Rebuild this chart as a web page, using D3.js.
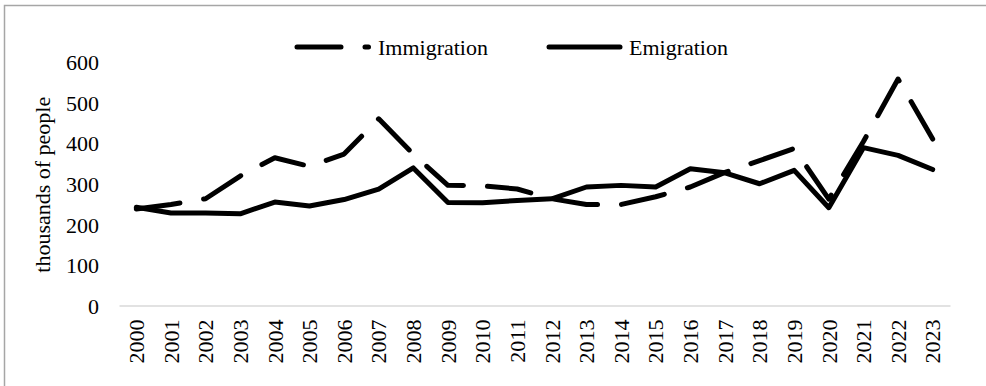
<!DOCTYPE html>
<html>
<head>
<meta charset="utf-8">
<script src="https://cdn.jsdelivr.net/npm/d3@7"></script>
<style>
  body { margin: 0; background: #fff; }
  svg text { font-family: "Liberation Serif", "Times New Roman", serif; fill: #000; }
</style>
</head>
<body>
<div id="chart"></div>
<script>
// Data
const years = ["2000","2001","2002","2003","2004","2005","2006","2007","2008","2009","2010","2011",
               "2012","2013","2014","2015","2016","2017","2018","2019","2020","2021","2022","2023"];
const immigration = [238, 249, 263, 319, 364, 343, 373, 460, 373, 296, 295, 287,
                     263, 249, 249, 268, 292, 328, 357, 387, 262, 404, 558, 410];
const emigration = [242, 228, 228, 226, 255, 245, 261, 287, 339, 254, 253, 259,
                    263, 292, 296, 292, 337, 327, 300, 333, 241, 389, 370, 335];
const yTicks = [0, 100, 200, 300, 400, 500, 600];

const W = 986, H = 386;
const plot = { left: 119, right: 950, top: 62, bottom: 305.5 };
const fontSize = 22;

const svg = d3.select("#chart").append("svg")
    .attr("width", W)
    .attr("height", H);

// chart frame (only top/left edges visible in the crop)
svg.append("rect")
    .attr("x", 4.5).attr("y", 5.5)
    .attr("width", 1000).attr("height", 400)
    .attr("fill", "none")
    .attr("stroke", "#a6a6a6")
    .attr("stroke-width", 1.5);

// Scales
const x = d3.scaleBand().domain(years).range([plot.left, plot.right]);
const y = d3.scaleLinear().domain([0, 600]).range([plot.bottom, plot.top]);
const cx = d => x(d) + x.bandwidth() / 2;

// Y axis
const yAxis = svg.append("g")
    .attr("transform", `translate(${plot.left},0)`)
    .call(d3.axisLeft(y).tickValues(yTicks).tickSize(0).tickPadding(20));
yAxis.select(".domain").remove();
yAxis.selectAll("text")
    .style("font-family", "'Liberation Serif', 'Times New Roman', serif")
    .style("font-size", fontSize + "px")
    .attr("dy", "0.35em");

// X axis
const xAxis = svg.append("g")
    .attr("transform", `translate(0,${plot.bottom})`)
    .call(d3.axisBottom(x).tickSize(0));
xAxis.select(".domain")
    .attr("stroke", "#d9d9d9")
    .attr("stroke-width", 1.5);
xAxis.selectAll("text")
    .style("font-family", "'Liberation Serif', 'Times New Roman', serif")
    .style("font-size", fontSize + "px")
    .style("text-anchor", "end")
    .attr("x", -14)
    .attr("y", 0)
    .attr("dy", "0.35em")
    .attr("transform", "rotate(-90)");

// Y axis title
svg.append("text")
    .attr("transform", `translate(42,${(plot.top + plot.bottom) / 2 + 1}) rotate(-90)`)
    .attr("text-anchor", "middle")
    .attr("dy", "0.35em")
    .style("font-size", fontSize + "px")
    .text("thousands of people");

// Lines
const line = d3.line()
    .x((d, i) => cx(years[i]))
    .y(d => y(d));

const series = [
    { name: "Immigration", values: immigration, dash: "44 24" },
    { name: "Emigration", values: emigration, dash: null }
];

svg.selectAll(".series")
    .data(series)
    .enter()
    .append("path")
    .attr("class", "series")
    .attr("d", d => line(d.values))
    .attr("fill", "none")
    .attr("stroke", "#000")
    .attr("stroke-width", 5)
    .attr("stroke-linecap", "round")
    .attr("stroke-linejoin", "round")
    .attr("stroke-dasharray", d => d.dash);

// Legend
const legendPos = [{ x0: 297, x1: 368.5, tx: 378 }, { x0: 549, x1: 620, tx: 629 }];
const legendY = 47;
const legend = svg.selectAll(".legend-item")
    .data(series)
    .enter()
    .append("g")
    .attr("class", "legend-item");

legend.append("line")
    .attr("x1", (d, i) => legendPos[i].x0)
    .attr("x2", (d, i) => legendPos[i].x1)
    .attr("y1", legendY).attr("y2", legendY)
    .attr("stroke", "#000")
    .attr("stroke-width", 5)
    .attr("stroke-linecap", "round")
    .attr("stroke-dasharray", d => d.dash);

legend.append("text")
    .attr("x", (d, i) => legendPos[i].tx)
    .attr("y", legendY)
    .attr("dy", "0.35em")
    .style("font-size", fontSize + "px")
    .text(d => d.name);
</script>
</body>
</html>
